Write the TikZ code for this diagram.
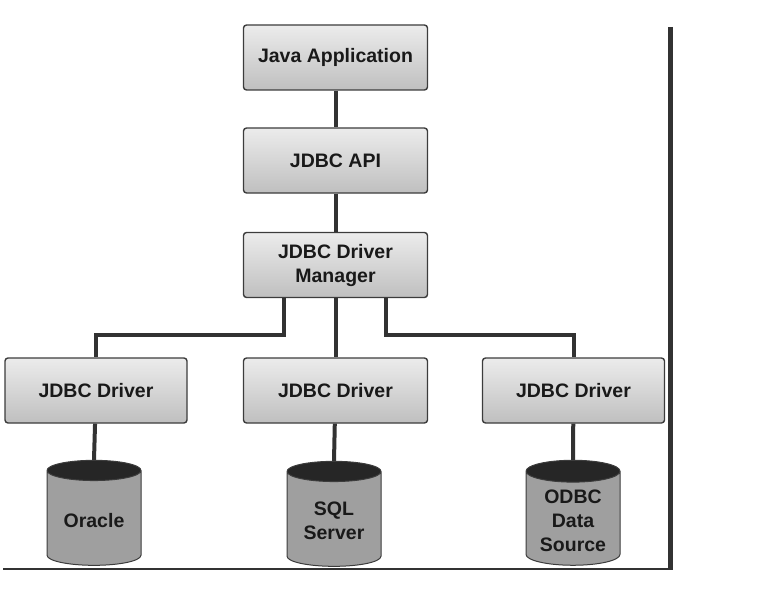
\documentclass[tikz,border=0pt]{standalone}
\usepackage{fontspec}
\setmainfont{Liberation Sans}
\usetikzlibrary{shapes.geometric}
\definecolor{edge}{RGB}{60,60,60}
\definecolor{wire}{RGB}{50,50,50}
\tikzset{
  layer/.style={draw=edge,line width=1.4pt,rounded corners=3pt,top color=gray!15,bottom color=gray!50,
    minimum width=184pt,minimum height=65pt,align=center,text=black!90},
  store/.style={cylinder,shape border rotate=90,aspect=0.3,draw=edge,line width=1pt,
    cylinder uses custom fill,cylinder body fill=gray!75,cylinder end fill=gray!30!black,
    minimum width=94pt,minimum height=105pt,align=center,text=black!90},
  link/.style={draw=wire,line width=4pt},
  frameline/.style={draw=wire}
}

\begin{document}
\begin{tikzpicture}[x=1pt,y=-1pt,every node/.style={font=\fontsize{19.5}{24}\selectfont\bfseries}]
  \useasboundingbox (0,0) rectangle (757,591);
  \node[layer] (app) at (335.5,57.5) {Java Application};
  \node[layer] (api) at (335.5,160.5) {JDBC API};
  \node[layer] (mgr) at (335.5,265) {JDBC Driver\\Manager};
  \node[layer,minimum width=182pt] (drv1) at (96,390.5) {JDBC Driver};
  \node[layer] (drv2) at (335.5,390.5) {JDBC Driver};
  \node[layer,minimum width=182pt] (drv3) at (573.5,390.5) {JDBC Driver};
  \node[store] (ora) at (94,520) {\\[-9pt]Oracle};
  \node[store] (sql) at (334,521) {SQL\\Server};
  \node[store] (odbc) at (573,520.5) {ODBC\\Data\\Source};
  % connectors
  \draw[link] (app) -- (api);
  \draw[link] (api) -- (mgr);
  \draw[link] ([xshift=-52pt]mgr.south) -- ++(0,37) -| (drv1.north);
  \draw[link] (mgr) -- (drv2);
  \draw[link] ([xshift=50pt]mgr.south) -- ++(0,37) -| (drv3.north);
  \draw[link] (drv1) -- (ora.top);
  \draw[link] (drv2) -- (sql.top);
  \draw[link] (drv3) -- (odbc.top);
  % frame
  \draw[frameline,line width=5pt] (670,27) -- (670,569);
  \draw[frameline,line width=2pt] (3,569) -- (672.5,569);
\end{tikzpicture}
\end{document}
